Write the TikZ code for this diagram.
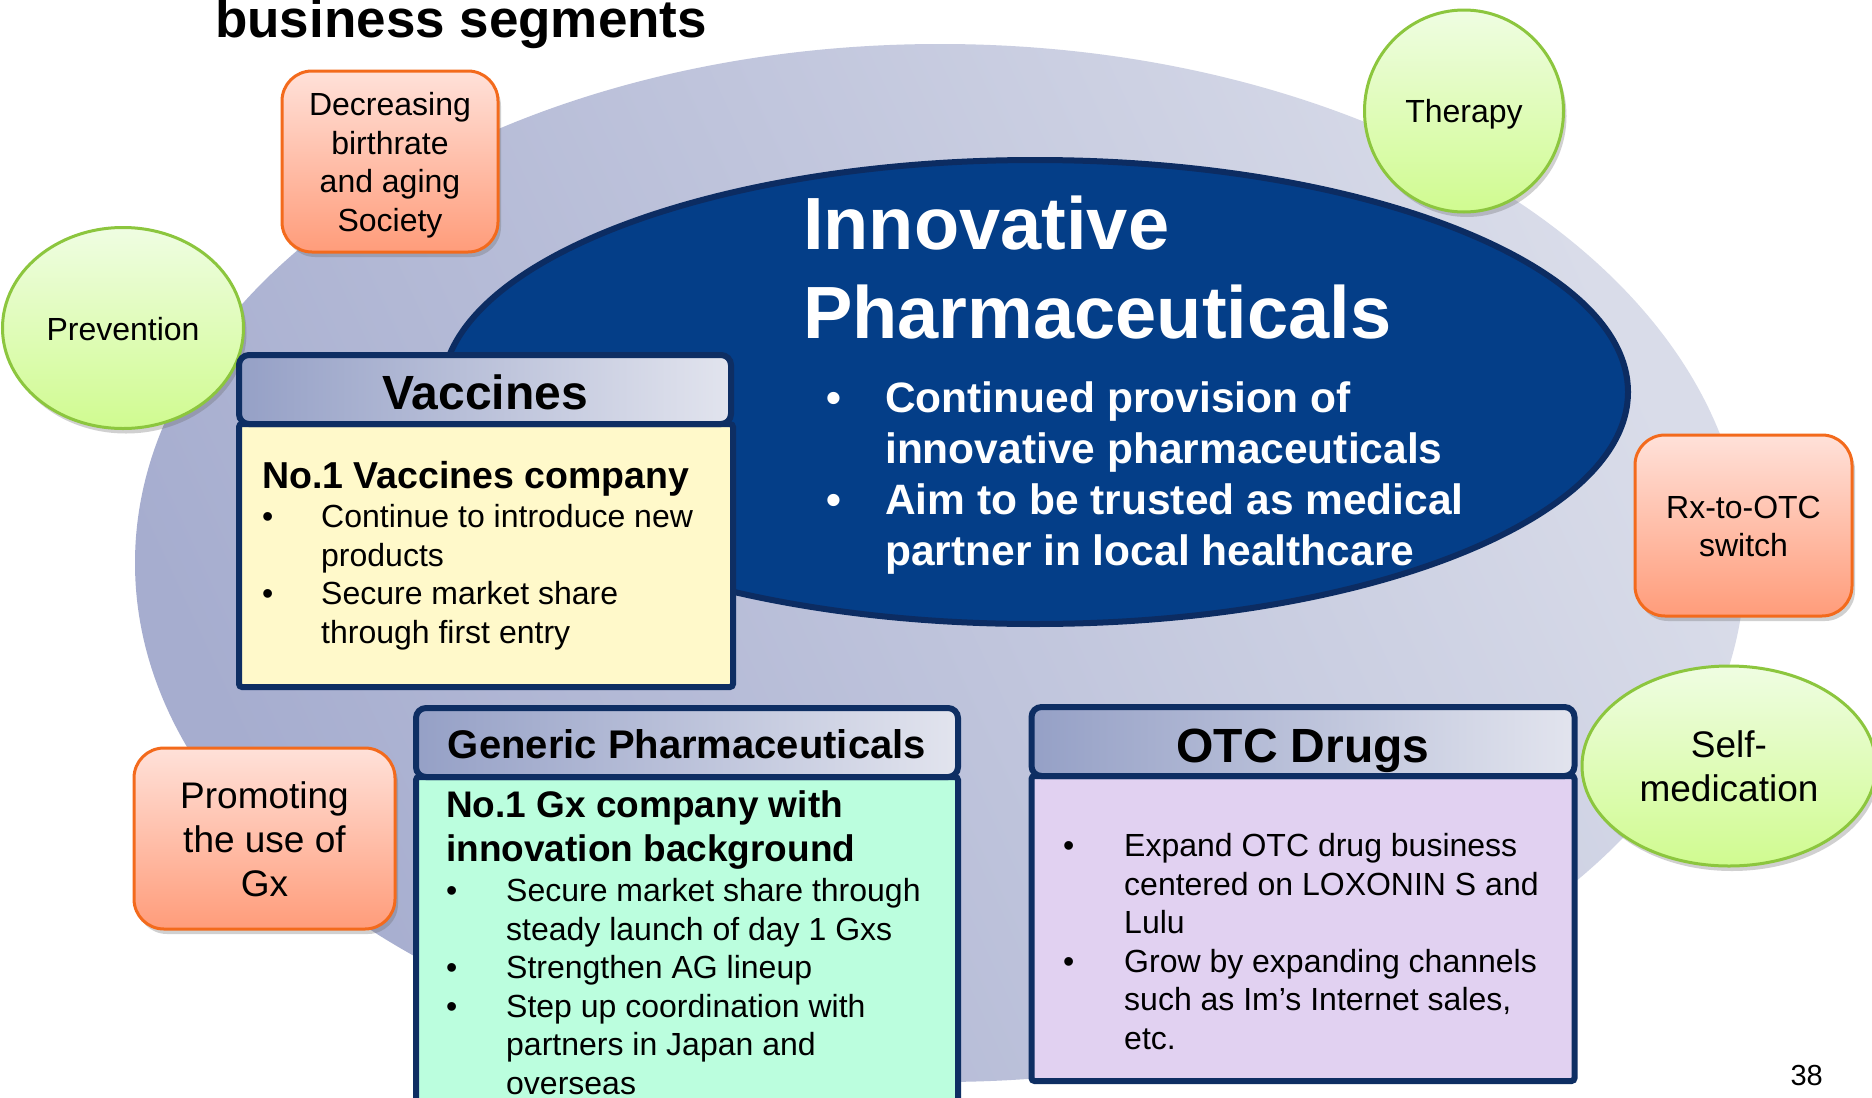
\documentclass[tikz,border=0pt]{standalone}
\usepackage{fontspec}
\setmainfont{Liberation Sans}
\usetikzlibrary{shapes.geometric,shadows}
\definecolor{bgA}{HTML}{A6ADCF}
\definecolor{bgB}{HTML}{D9DCE9}
\definecolor{navy}{HTML}{043E88}
\definecolor{navyline}{HTML}{0C2C62}
\definecolor{boxline}{HTML}{0E2E63}
\definecolor{hdrA}{HTML}{95A0C6}
\definecolor{hdrB}{HTML}{E2E4EE}
\definecolor{orgA}{HTML}{FFE1D9}
\definecolor{orgB}{HTML}{FF9C7A}
\definecolor{orgline}{HTML}{F36A1C}
\definecolor{grnA}{HTML}{EFFDE2}
\definecolor{grnB}{HTML}{D0FB90}
\definecolor{grnline}{HTML}{8CC63E}
\definecolor{vacfill}{HTML}{FFF9CA}
\definecolor{gxfill}{HTML}{BBFEDE}
\definecolor{otcfill}{HTML}{E1D1F1}
\newcommand{\fsz}[2]{\fontsize{#1}{#2}\selectfont}
\begin{document}
\begin{tikzpicture}[x=1pt,y=-1pt,
  softshadow/.style={drop shadow={shadow xshift=3pt,shadow yshift=-5pt,opacity=0.3,fill=black!60}},
  orangebox/.style={rectangle,draw=orgline,line width=3pt,rounded corners=30pt,top color=orgA,bottom color=orgB,softshadow,inner sep=0pt},
  greenoval/.style={ellipse,draw=grnline,line width=3pt,top color=grnA,bottom color=grnB,softshadow,inner sep=0pt},
  hdrbox/.style={rectangle,draw=boxline,line width=6pt,rounded corners=10pt,left color=hdrA,right color=hdrB,inner sep=0pt,minimum height=69pt},
  bodybox/.style={rectangle,draw=boxline,line width=6pt,rounded corners=3pt,inner sep=0pt},
  txt/.style={inner sep=0pt,anchor=base west},
  ctxt/.style={inner sep=0pt,anchor=base}
]
\useasboundingbox (0,0) rectangle (1872,1098);
\fill[white] (0,0) rectangle (1872,1098);

% background ellipse
\node[ellipse,inner sep=0pt,minimum width=1610pt,minimum height=1038pt,left color=bgA,right color=bgB,shading angle=115] (bg) at (940,563) {};
% inner ellipse
\node[ellipse,inner sep=0pt,minimum width=1186pt,minimum height=464pt,fill=navy,draw=navyline,line width=6pt] (inner) at (1035,392) {};

% title
\node[txt,font=\bfseries\fsz{53}{64}] (title) at (215,37) {business segments};

% callouts
\node[orangebox,minimum width=216pt,minimum height=181pt] (birth) at (390,161.5) {};
\node[ctxt,font=\fsz{32}{38.5}] (birthtxt) at (390,115.5) {\begin{tabular}[t]{@{}c@{}}Decreasing\\birthrate\\and aging\\Society\end{tabular}};
\node[orangebox,minimum width=217pt,minimum height=181pt] (rxotc) at (1743.5,525.5) {};
\node[ctxt,font=\fsz{32}{38.5}] (rxotctxt) at (1743.5,518) {\begin{tabular}[t]{@{}c@{}}Rx-to-OTC\\switch\end{tabular}};
\node[orangebox,minimum width=261pt,minimum height=181pt] (promo) at (264.5,838.5) {};
\node[ctxt,font=\fsz{37}{44}] (promotxt) at (264.5,808) {\begin{tabular}[t]{@{}c@{}}Promoting\\the use of\\Gx\end{tabular}};
\node[greenoval,minimum width=241pt,minimum height=201pt] (prev) at (123,328) {};
\node[ctxt,font=\fsz{32}{38.5}] (prevtxt) at (123,340) {Prevention};
\node[greenoval,minimum width=199pt,minimum height=202pt] (ther) at (1464,111) {};
\node[ctxt,font=\fsz{32}{38.5}] (thertxt) at (1464,122.5) {Therapy};
\node[greenoval,minimum width=294pt,minimum height=200pt] (selfm) at (1729,766) {};
\node[ctxt,font=\fsz{37}{44}] (selfmtxt) at (1729,757) {\begin{tabular}[t]{@{}c@{}}Self-\\medication\end{tabular}};

% inner ellipse texts
\node[txt,text=white,font=\bfseries\fsz{74}{89}] (innotitle) at (803,249) {\begin{tabular}[t]{@{}l@{}}Innovative\\Pharmaceuticals\end{tabular}};
\node[txt,text=white,font=\bfseries\fsz{42.5}{51}] (innolist) at (826,412) {\begin{tabular}[t]{@{}p{59pt}@{}l@{}}\textbullet & Continued provision of\\ & innovative pharmaceuticals\\ \textbullet & Aim to be trusted as medical\\ & partner in local healthcare\end{tabular}};

% Vaccines
\node[bodybox,fill=vacfill,minimum width=494pt,minimum height=263pt] (vacbody) at (486,555.5) {};
\node[hdrbox,minimum width=492pt] (vachdr) at (485,389.5) {};
\node[ctxt,font=\bfseries\fsz{48}{57}] (vactitle) at (485,409) {Vaccines};
\node[txt,font=\bfseries\fsz{37.5}{45}] (vachead) at (262,488) {No.1 Vaccines company};
\node[txt,font=\fsz{32}{38.5}] (vaclist) at (262,527.5) {\begin{tabular}[t]{@{}p{59pt}@{}l@{}}\textbullet & Continue to introduce new\\ & products\\ \textbullet & Secure market share\\ & through first entry\end{tabular}};

% Generic
\node[bodybox,fill=gxfill,minimum width=542pt,minimum height=333pt] (gxbody) at (687,943.5) {};
\node[hdrbox,minimum width=542pt] (gxhdr) at (687,742.5) {};
\node[ctxt,font=\bfseries\fsz{40}{48}] (gxtitle) at (687,758) {Generic Pharmaceuticals};
\node[txt,font=\bfseries\fsz{37}{44}] (gxhead) at (446,817.5) {\begin{tabular}[t]{@{}l@{}}No.1 Gx company with\\innovation background\end{tabular}};
\node[txt,font=\fsz{32}{38.5}] (gxlist) at (446,901.5) {\begin{tabular}[t]{@{}p{60pt}@{}l@{}}\textbullet & Secure market share through\\ & steady launch of day 1 Gxs\\ \textbullet & Strengthen AG lineup\\ \textbullet & Step up coordination with\\ & partners in Japan and\\ & overseas\end{tabular}};

% OTC
\node[bodybox,fill=otcfill,minimum width=543pt,minimum height=305pt] (otcbody) at (1303,928.5) {};
\node[hdrbox,minimum width=543pt] (otchdr) at (1303,741.5) {};
\node[ctxt,font=\bfseries\fsz{48}{57}] (otctitle) at (1303,762) {OTC Drugs};
\node[txt,font=\fsz{32}{38.5}] (otclist) at (1063,856.5) {\begin{tabular}[t]{@{}p{61pt}@{}l@{}}\textbullet & Expand OTC drug business\\ & centered on LOXONIN S and\\ & Lulu\\ \textbullet & Grow by expanding channels\\ & such as Im’s Internet sales,\\ & etc.\end{tabular}};

% page number
\node[inner sep=0pt,anchor=base east,font=\fsz{29}{35}] (pagenum) at (1823,1085) {38};
\end{tikzpicture}
\end{document}
